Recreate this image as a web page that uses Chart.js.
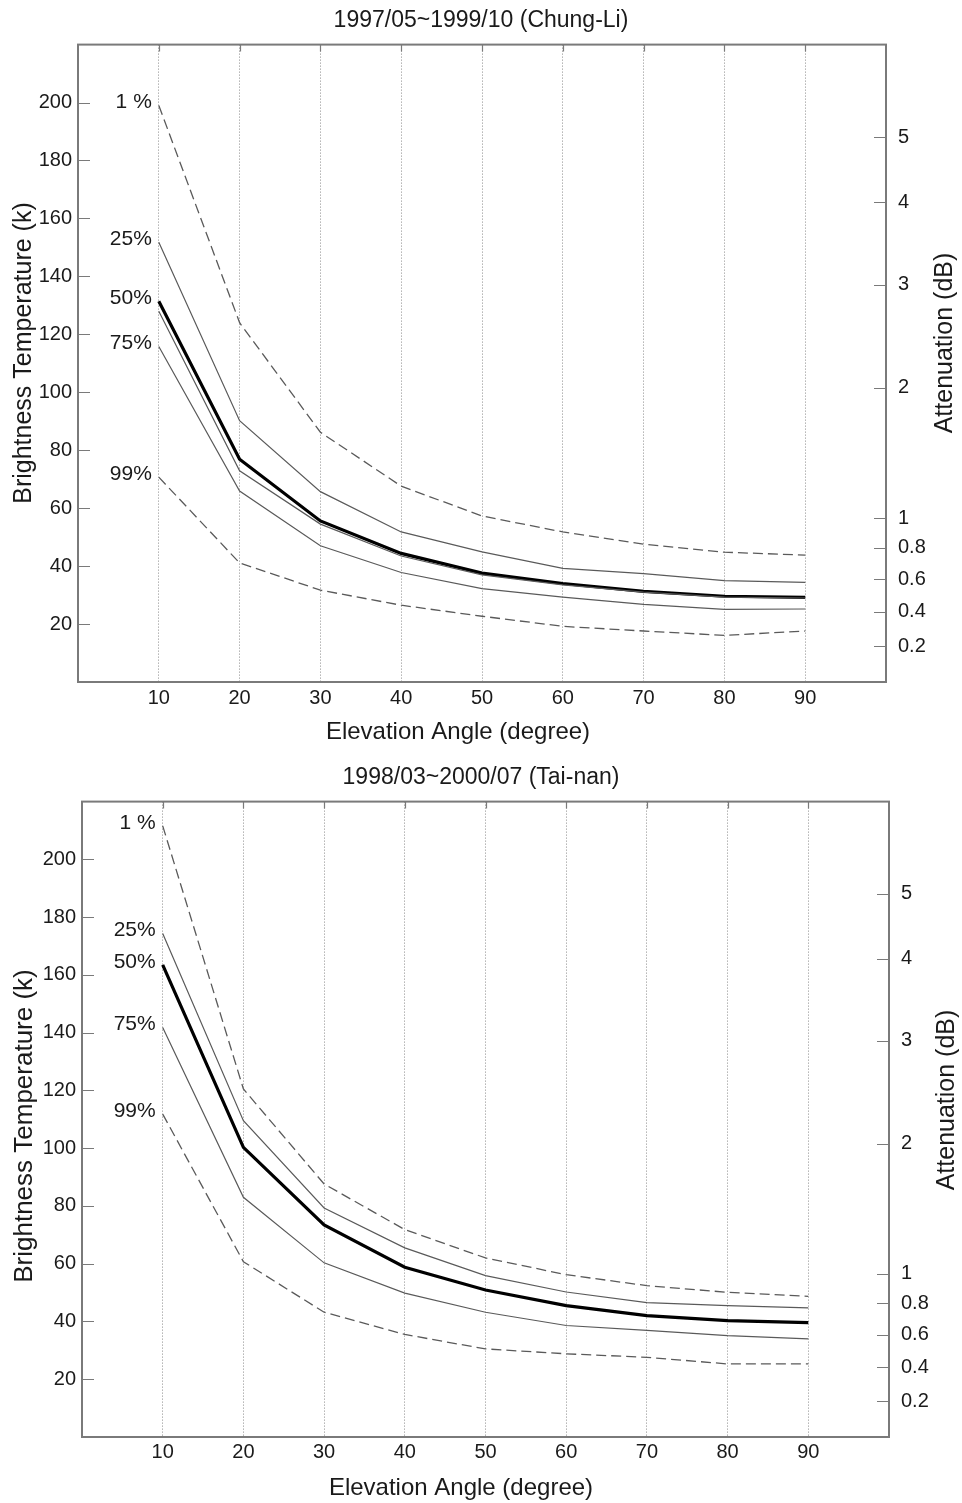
<!DOCTYPE html>
<html>
<head>
<meta charset="utf-8">
<script src="https://cdn.jsdelivr.net/npm/chart.js@4.4.1/dist/chart.umd.min.js"></script>
<style>
  body { margin: 0; background: #fff; }
  canvas { display: block; }
</style>
</head>
<body>
<canvas id="chungLi" width="962" height="760"></canvas>
<canvas id="taiNan" width="962" height="743"></canvas>
<script>
// elevation angles (degree)
const angles = [10, 20, 30, 40, 50, 60, 70, 80, 90];

// brightness temperature (K), Chung-Li 1997/05~1999/10
const chungLiP1  = [199, 124, 86.2, 67.6, 57.3, 51.8, 47.6, 44.8, 43.8];
const chungLiP25 = [151.8, 90.2, 65.7, 51.8, 44.9, 39.2, 37.4, 35.0, 34.4];
const chungLiP50 = [131.4, 76.9, 55.6, 44.4, 37.6, 34.0, 31.3, 29.6, 29.2];
const chungLiMid = [128, 72.9, 54.5, 43.5, 37.0, 33.5, 31.0, 29.3, 29.0];
const chungLiP75 = [115.8, 65.9, 47.0, 37.8, 32.2, 29.3, 26.8, 25.1, 25.2];
const chungLiP99 = [70.7, 41.1, 31.7, 26.5, 22.7, 19.2, 17.6, 16.1, 17.6];

// brightness temperature (K), Tai-nan 1998/03~2000/07
const taiNanP1  = [211.6, 120.5, 87.6, 71.8, 62.0, 56.2, 52.4, 50.1, 48.7];
const taiNanP25 = [174.3, 109.5, 79.3, 65.5, 55.9, 50.2, 46.5, 45.5, 44.7];
const taiNanP50 = [163.5, 100.3, 73.4, 58.8, 50.9, 45.5, 42.0, 40.3, 39.6];
const taiNanP75 = [141.8, 83.0, 60.3, 49.8, 43.2, 38.6, 36.9, 35.1, 34.0];
const taiNanP99 = [111.8, 60.7, 43.2, 35.5, 30.5, 28.8, 27.6, 25.3, 25.3];

const pctLabels = ['1 %', '25%', '50%', '75%', '99%'];

// tick labels
const xTickValues = [10, 20, 30, 40, 50, 60, 70, 80, 90];
const tempTicks = [20, 40, 60, 80, 100, 120, 140, 160, 180, 200];
const attenTicks = [5, 4, 3, 2, 1, 0.8, 0.6, 0.4, 0.2];

// medium temperature used to convert attenuation (dB) into brightness temperature
const TM = 275;
function tempFromAtten(a) {
    return TM * (1 - Math.pow(10, -a / 10));
}

const FONT = '"Liberation Sans", Arial, Helvetica, sans-serif';
Chart.defaults.font.family = FONT;
Chart.defaults.color = '#1a1a1a';

function pts(vals) {
    return angles.map((a, i) => ({x: a, y: vals[i]}));
}

const dashed = {borderColor: '#5a5a5a', borderWidth: 1.3, borderDash: [10, 5]};
const thin = {borderColor: '#5a5a5a', borderWidth: 1.2};
const thick = {borderColor: '#000', borderWidth: 3.2};

// frame, inward ticks, percentile labels and axis titles
const decor = {
    id: 'decor',
    afterDraw(chart, args, opts) {
        const {ctx, chartArea: {left, right, top, bottom}, scales: {x, y, y2}} = chart;
        ctx.save();
        ctx.strokeStyle = '#7a7a7a';
        ctx.lineWidth = 1.2;
        ctx.beginPath();
        y.ticks.forEach(t => {
            const py = Math.round(y.getPixelForValue(t.value)) + 0.5;
            ctx.moveTo(left, py); ctx.lineTo(left + 12, py);
        });
        y2.ticks.forEach(t => {
            const py = Math.round(y2.getPixelForValue(t.value)) + 0.5;
            ctx.moveTo(right, py); ctx.lineTo(right - 12, py);
        });
        x.ticks.forEach(t => {
            const px = Math.round(x.getPixelForValue(t.value)) + 0.5;
            ctx.moveTo(px, top); ctx.lineTo(px, top + 7);
        });
        ctx.stroke();
        ctx.lineWidth = 2;
        ctx.strokeRect(left, top, right - left, bottom - top);

        ctx.fillStyle = '#1a1a1a';
        ctx.font = '21px ' + FONT;
        ctx.textAlign = 'right';
        ctx.textBaseline = 'middle';
        chart.data.datasets.forEach(ds => {
            if (!ds.pct) return;
            const p = ds.data[0];
            ctx.fillText(ds.pct, x.getPixelForValue(p.x) - 7, y.getPixelForValue(p.y) - 3);
        });

        ctx.textAlign = 'center';
        ctx.font = opts.xTitle.size + 'px ' + FONT;
        ctx.fillText('Elevation Angle (degree)', opts.xTitle.x, opts.xTitle.y);
        [[opts.yTitle, 'Brightness Temperature (k)'], [opts.y2Title, 'Attenuation (dB)']].forEach(([t, txt]) => {
            ctx.save();
            ctx.translate(t.x, t.y);
            ctx.rotate(-Math.PI / 2);
            ctx.font = t.size + 'px ' + FONT;
            ctx.fillText(txt, 0, 0);
            ctx.restore();
        });
        ctx.restore();
    }
};

function makeChart(id, title, series, geo) {
    const ctx = document.getElementById(id).getContext('2d');
    const datasets = series.map(s => Object.assign({
        data: pts(s.vals),
        pct: s.pct,
        pointRadius: 0,
        tension: 0,
        fill: false
    }, s.style));

    new Chart(ctx, {
        type: 'line',
        data: {datasets},
        options: {
            responsive: false,
            animation: false,
            layout: {padding: 0},
            plugins: {
                legend: {display: false},
                tooltip: {enabled: false},
                title: {
                    display: true,
                    text: title,
                    color: '#1a1a1a',
                    font: {size: 23, weight: 'normal'},
                    padding: {top: geo.titleTop, bottom: geo.titleBottom}
                },
                decor: {
                    xTitle: geo.xTitle,
                    yTitle: geo.yTitle,
                    y2Title: geo.y2Title
                }
            },
            scales: {
                x: {
                    type: 'linear',
                    min: 0,
                    max: 100,
                    afterBuildTicks: s => { s.ticks = xTickValues.map(v => ({value: v})); },
                    afterFit: s => { s.height = geo.xHeight; },
                    ticks: {font: {size: 20}, padding: geo.xPad, color: '#1a1a1a'},
                    grid: {color: '#8a8a8a', lineWidth: 1, drawTicks: false},
                    border: {display: false, dash: [1, 2]}
                },
                y: {
                    type: 'linear',
                    position: 'left',
                    min: 0,
                    max: 220,
                    afterBuildTicks: s => { s.ticks = tempTicks.map(v => ({value: v})); },
                    afterFit: s => { s.width = geo.yWidth; },
                    ticks: {font: {size: 20}, padding: 6, color: '#1a1a1a'},
                    grid: {display: false, drawTicks: false},
                    border: {display: false}
                },
                y2: {
                    type: 'linear',
                    position: 'right',
                    min: 0,
                    max: 220,
                    afterBuildTicks: s => { s.ticks = attenTicks.map(a => ({value: tempFromAtten(a)})); },
                    afterFit: s => { s.width = geo.y2Width; },
                    ticks: {
                        font: {size: 20},
                        padding: 12,
                        color: '#1a1a1a',
                        callback: (v, i) => String(attenTicks[i])
                    },
                    grid: {display: false, drawTicks: false},
                    border: {display: false}
                }
            }
        },
        plugins: [decor]
    });
}

makeChart('chungLi', '1997/05~1999/10 (Chung-Li)', [
    {vals: chungLiP1, pct: pctLabels[0], style: dashed},
    {vals: chungLiP25, pct: pctLabels[1], style: thin},
    {vals: chungLiMid, style: thin},
    {vals: chungLiP75, pct: pctLabels[3], style: thin},
    {vals: chungLiP99, pct: pctLabels[4], style: dashed},
    {vals: chungLiP50, pct: pctLabels[2], style: thick}
], {
    titleTop: 7, titleBottom: 10,
    xHeight: 78, xPad: 4,
    yWidth: 78, y2Width: 76,
    xTitle: {x: 458, y: 732, size: 24},
    yTitle: {x: 24, y: 353, size: 25},
    y2Title: {x: 945, y: 343, size: 25}
});

makeChart('taiNan', '1998/03~2000/07 (Tai-nan)', [
    {vals: taiNanP1, pct: pctLabels[0], style: dashed},
    {vals: taiNanP25, pct: pctLabels[1], style: thin},
    {vals: taiNanP75, pct: pctLabels[3], style: thin},
    {vals: taiNanP99, pct: pctLabels[4], style: dashed},
    {vals: taiNanP50, pct: pctLabels[2], style: thick}
], {
    titleTop: 4, titleBottom: 10,
    xHeight: 66, xPad: 3,
    yWidth: 82, y2Width: 73,
    xTitle: {x: 461, y: 728, size: 24},
    yTitle: {x: 25, y: 366, size: 26},
    y2Title: {x: 947, y: 340, size: 25}
});
</script>
</body>
</html>
